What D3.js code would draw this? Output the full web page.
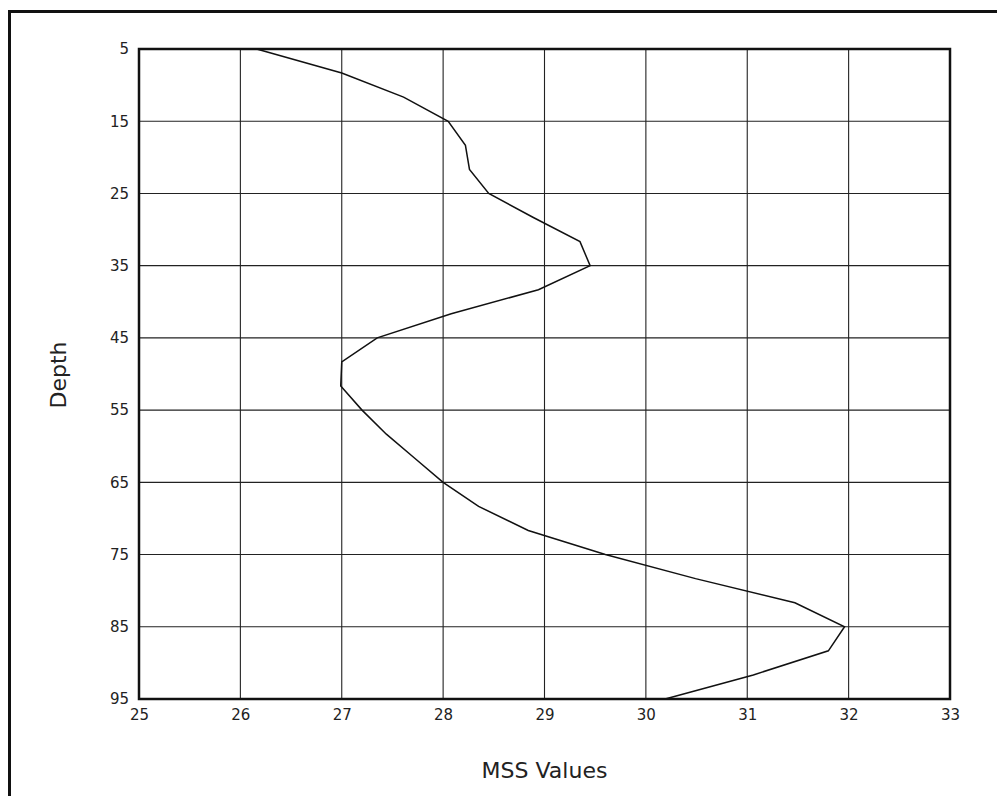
<!DOCTYPE html>
<html>
<head>
<meta charset="utf-8">
<script src="https://cdn.jsdelivr.net/npm/d3@7"></script>
<style>
    html, body { margin: 0; padding: 0; background: #fff; overflow: hidden; }
    text { font-family: "DejaVu Sans", sans-serif; fill: #222; }
</style>
</head>
<body>
<svg id="chart" width="997" height="796"></svg>
<script>
// Depth readings (every 10/3 units from 5 to 95) and the MSS value at each
const depths = [5, 8.33, 11.67, 15, 18.33, 21.67, 25, 28.33, 31.67, 35,
    38.33, 41.67, 45, 48.33, 51.67, 55, 58.33, 61.67, 65, 68.33,
    71.67, 75, 78.33, 81.67, 85, 88.33, 91.67, 95];
const mssValues = [26.16, 27.0, 27.61, 28.05, 28.22, 28.26, 28.45, 28.89, 29.35, 29.45,
    28.94, 28.08, 27.35, 27.0, 26.99, 27.2, 27.44, 27.72, 28.0, 28.35,
    28.84, 29.6, 30.49, 31.47, 31.96, 31.8, 31.06, 30.19];

// Tick labels
const xTicks = [25, 26, 27, 28, 29, 30, 31, 32, 33];
const yTicks = [5, 15, 25, 35, 45, 55, 65, 75, 85, 95];

const xTitle = 'MSS Values';
const yTitle = 'Depth';

const svg = d3.select('#chart');

// Outer frame (runs off the right and bottom of the window)
svg.append('rect')
    .attr('x', 9.5)
    .attr('y', 11.5)
    .attr('width', 1010)
    .attr('height', 820)
    .attr('fill', 'none')
    .attr('stroke', '#111')
    .attr('stroke-width', 3);

const plot = { left: 139, top: 49, right: 950, bottom: 699 };

const x = d3.scaleLinear().domain([25, 33]).range([plot.left, plot.right]);
const y = d3.scaleLinear().domain([5, 95]).range([plot.top, plot.bottom]);

// Grid lines
const grid = svg.append('g').attr('stroke', '#222').attr('stroke-width', 1.1);
grid.selectAll('line.v')
    .data(xTicks.slice(1, -1))
    .enter().append('line')
    .attr('class', 'v')
    .attr('x1', (d) => x(d)).attr('x2', (d) => x(d))
    .attr('y1', plot.top).attr('y2', plot.bottom);
grid.selectAll('line.h')
    .data(yTicks.slice(1, -1))
    .enter().append('line')
    .attr('class', 'h')
    .attr('x1', plot.left).attr('x2', plot.right)
    .attr('y1', (d) => y(d)).attr('y2', (d) => y(d));

// Axes labels via d3 axes, domain and ticks hidden
const xAxis = svg.append('g')
    .attr('transform', `translate(0,${plot.bottom})`)
    .call(d3.axisBottom(x).tickValues(xTicks).tickSize(0).tickPadding(10));
const yAxis = svg.append('g')
    .attr('transform', `translate(${plot.left},0)`)
    .call(d3.axisLeft(y).tickValues(yTicks).tickSize(0).tickPadding(10));
[xAxis, yAxis].forEach((ax) => {
    ax.select('.domain').remove();
    ax.selectAll('text')
        .attr('font-size', 15)
        .attr('font-family', '"DejaVu Sans", sans-serif')
        .attr('fill', '#222');
});

// Data line
const line = d3.line()
    .x((d) => x(d.value))
    .y((d) => y(d.depth));
const series = depths.map((d, i) => ({ depth: d, value: mssValues[i] }));
svg.append('path')
    .datum(series)
    .attr('fill', 'none')
    .attr('stroke', '#111')
    .attr('stroke-width', 1.5)
    .attr('stroke-linejoin', 'miter')
    .attr('d', line);

// Plot frame
svg.append('rect')
    .attr('x', plot.left)
    .attr('y', plot.top)
    .attr('width', plot.right - plot.left)
    .attr('height', plot.bottom - plot.top)
    .attr('fill', 'none')
    .attr('stroke', '#111')
    .attr('stroke-width', 2.5);

// Axis titles
svg.append('text')
    .attr('x', (plot.left + plot.right) / 2)
    .attr('y', 778)
    .attr('text-anchor', 'middle')
    .attr('font-size', 22)
    .text(xTitle);
svg.append('text')
    .attr('transform', `translate(66,375) rotate(-90)`)
    .attr('text-anchor', 'middle')
    .attr('font-size', 22)
    .text(yTitle);
</script>
</body>
</html>
